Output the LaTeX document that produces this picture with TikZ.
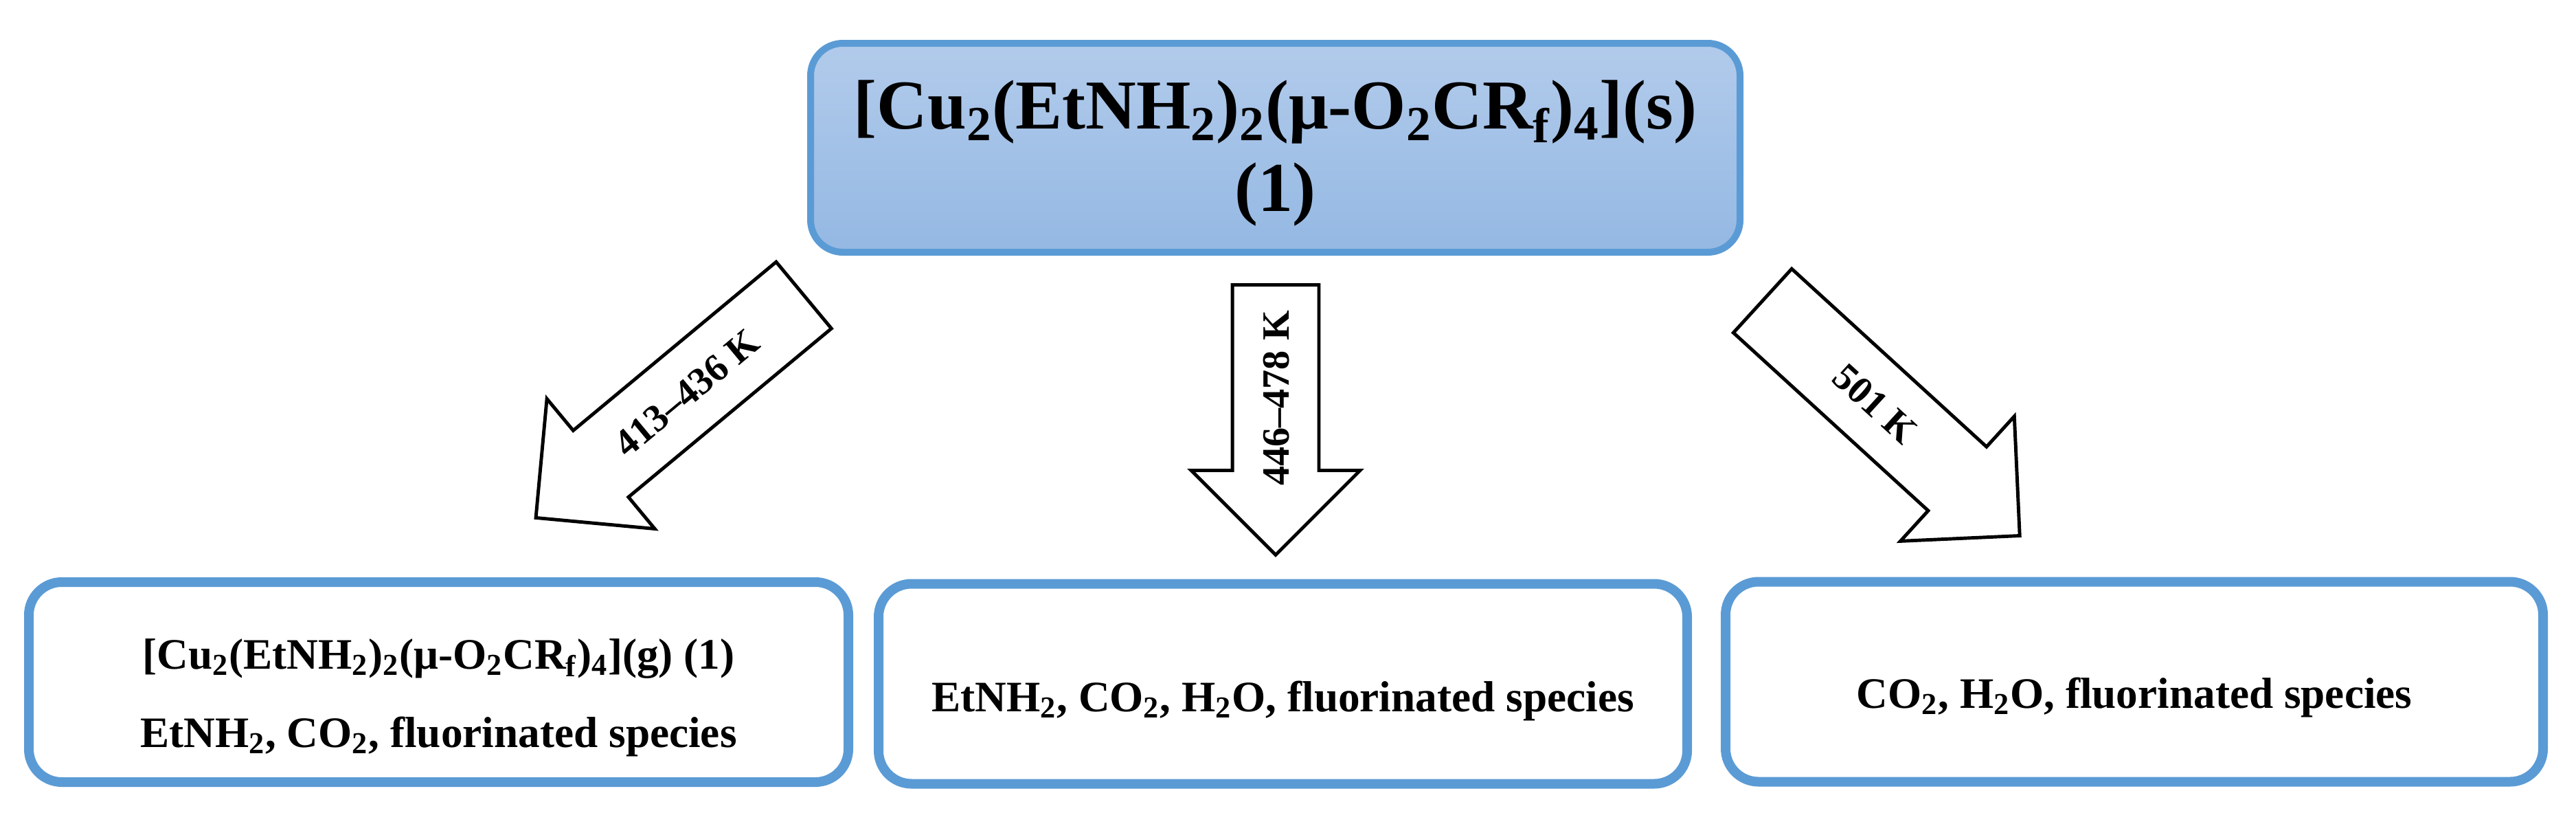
\documentclass[tikz,border=0pt]{standalone}
\usepackage{fontspec}
\setmainfont{Liberation Serif}
\usetikzlibrary{shapes.arrows}
\definecolor{boxblue}{RGB}{91,155,213}
\definecolor{topblue}{RGB}{178,203,235}
\definecolor{lowblue}{RGB}{148,184,227}
\tikzstyle{startbox} = [rectangle, rounded corners=0.47cm, minimum width=13.53cm, minimum height=3.04cm, inner sep=0pt, draw=boxblue, line width=0.1cm, top color=topblue, bottom color=lowblue]
\tikzstyle{productbox} = [rectangle, rounded corners=0.48cm, minimum height=2.91cm, inner sep=0pt, draw=boxblue, line width=0.14cm, fill=white]
\tikzstyle{boxtext} = [align=center, font=\fontsize{18}{32.4}\selectfont\bfseries]
\tikzstyle{heatarrow} = [single arrow, draw, fill=white, line width=1.4pt, minimum width=2.42cm, single arrow head extend=0.6cm, single arrow tip angle=90, anchor=tail, text height=0.38cm, text depth=0cm, inner xsep=2pt, inner ysep=0.415cm, font=\fontsize{16}{19}\selectfont\bfseries]

\begin{document}
\begin{tikzpicture}
    \useasboundingbox (0,0) rectangle (37.5,-11.98);
    \node [startbox] at (18.565,-2.15) (complex) {};
    \node [productbox, minimum width=11.93cm] at (6.385,-9.925) (gas) {};
    \node [productbox, minimum width=11.77cm] at (18.675,-9.95) (mixed) {};
    \node [productbox, minimum width=11.90cm] at (31.07,-9.92) (final) {};
    \node [boxtext, font=\fontsize{29}{34.4}\selectfont\bfseries] at ([yshift=-0.08cm]complex.center) (complextext) {[Cu\textsubscript{2}(EtNH\textsubscript{2})\textsubscript{2}(μ-O\textsubscript{2}CR\textsubscript{f})\textsubscript{4}](s)\\(1)};
    \node [boxtext] at ([yshift=-0.23cm]gas.center) (gastext) {[Cu\textsubscript{2}(EtNH\textsubscript{2})\textsubscript{2}(μ-O\textsubscript{2}CR\textsubscript{f})\textsubscript{4}](g) (1)\\EtNH\textsubscript{2}, CO\textsubscript{2}, fluorinated species};
    \node [boxtext] at ([yshift=-0.25cm]mixed.center) (mixedtext) {EtNH\textsubscript{2}, CO\textsubscript{2}, H\textsubscript{2}O, fluorinated species};
    \node [boxtext] at ([yshift=-0.23cm]final.center) (finaltext) {CO\textsubscript{2}, H\textsubscript{2}O, fluorinated species};
    \node [heatarrow, rotate=39.7, shape border rotate=180, minimum height=5.07cm] at (11.72,-4.28) (lowarrow) {413--436 K};
    \node [heatarrow, rotate=90, shape border rotate=180, minimum height=3.93cm] at (18.57,-4.12) (midarrow) {446--478 K};
    \node [heatarrow, rotate=-42.4, minimum height=5.07cm] at (25.64,-4.36) (higharrow) {501 K};
\end{tikzpicture}
\end{document}
